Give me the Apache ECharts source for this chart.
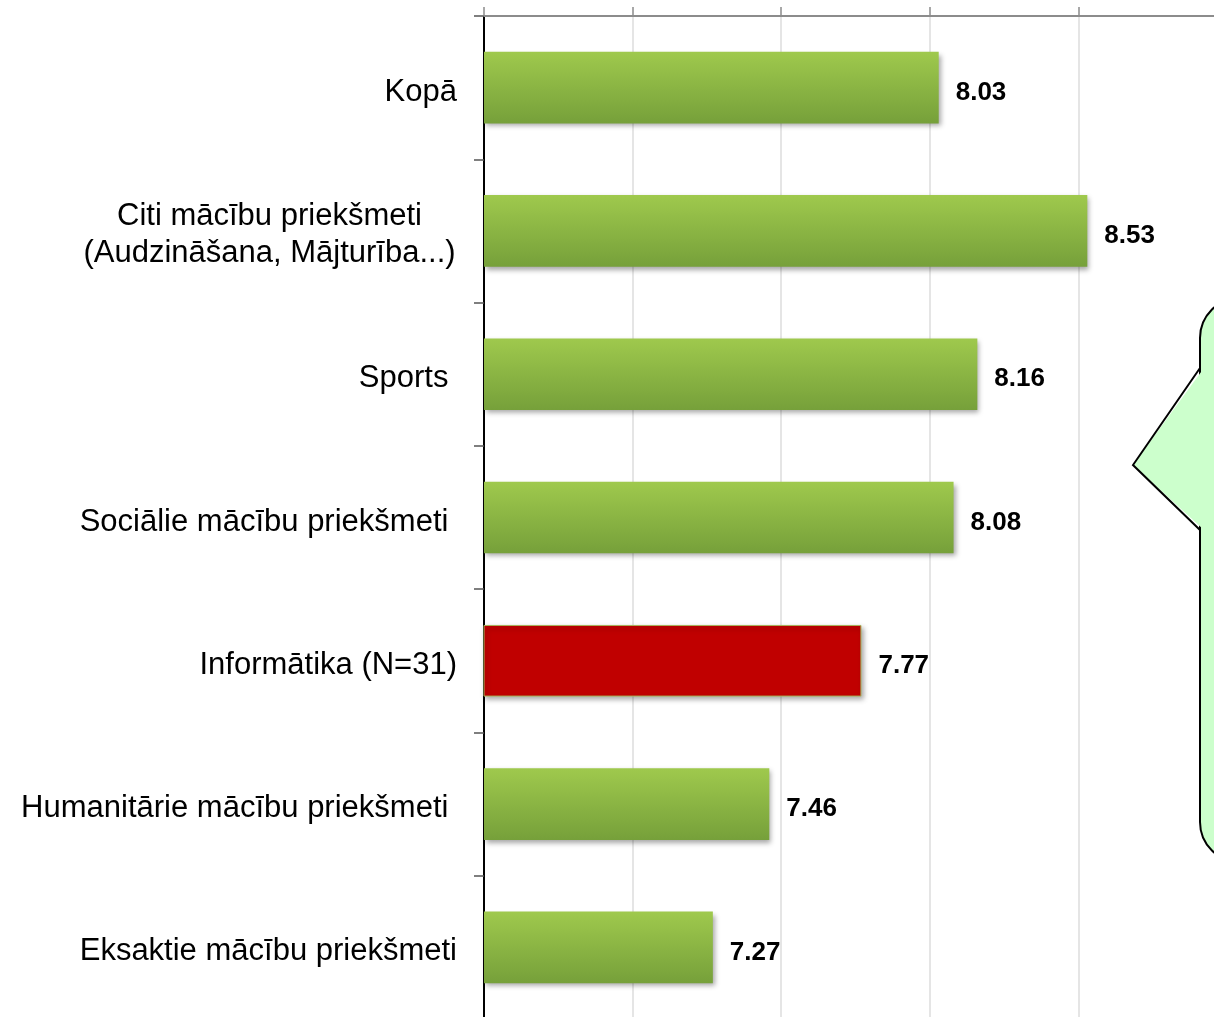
<!DOCTYPE html>
<html>
<head>
<meta charset="utf-8">
<script src="https://cdn.jsdelivr.net/npm/echarts@6/dist/echarts.min.js"></script>
<style>
  html, body { margin: 0; padding: 0; background: #fff; }
  #main { width: 1214px; height: 1017px; }
</style>
</head>
<body>
<div id="main"></div>
<script>
// categories top to bottom
var categories = [
    'Kopā',
    '{c|Citi mācību priekšmeti}\n{c|(Audzināšana, Mājturība...)}',
    'Sports ',
    'Sociālie mācību priekšmeti ',
    'Informātika (N=31)',
    'Humanitārie mācību priekšmeti ',
    'Eksaktie mācību priekšmeti'
];
var values = [8.03, 8.53, 8.16, 8.08, 7.77, 7.46, 7.27];
var highlightIndex = 4;

var greenBar = {
    type: 'linear', x: 0, y: 0, x2: 0, y2: 1,
    colorStops: [
        { offset: 0, color: '#9fc94d' },
        { offset: 1, color: '#76a03a' }
    ]
};

var barData = [];
for (var i = 0; i < values.length; i++) {
    barData.push({
        value: values[i],
        itemStyle: i === highlightIndex ? {
            color: '#c00000',
            borderColor: '#a8b45a',
            borderWidth: 1
        } : { color: greenBar }
    });
}

var chart = echarts.init(document.getElementById('main'));
chart.setOption({
    animation: false,
    backgroundColor: '#ffffff',
    grid: {
        left: 484,
        top: 16,
        right: -13,
        bottom: -2,
        outerBoundsMode: 'none',
        containLabel: false
    },
    xAxis: {
        type: 'value',
        position: 'top',
        min: 6.5,
        max: 9,
        interval: 0.5,
        axisLine: { show: true, lineStyle: { color: '#8c8c8c', width: 2 } },
        axisTick: { show: true, length: 9, lineStyle: { color: '#8c8c8c', width: 1.5 } },
        axisLabel: { show: false },
        splitLine: { show: true, lineStyle: { color: '#dcdcdc', width: 1.5 } }
    },
    yAxis: {
        type: 'category',
        inverse: true,
        data: categories,
        axisLine: { show: true, lineStyle: { color: '#000000', width: 2 } },
        axisTick: { show: true, length: 10, lineStyle: { color: '#555555', width: 1.5 } },
        axisLabel: {
            margin: 27,
            padding: [9, 0, 0, 0],
            color: '#000000',
            fontFamily: 'Liberation Sans, Arial, sans-serif',
            fontSize: 31,
            lineHeight: 37,
            align: 'right',
            rich: {
                c: {
                    width: 375,
                    align: 'center',
                    fontFamily: 'Liberation Sans, Arial, sans-serif',
                    fontSize: 31,
                    lineHeight: 37,
                    color: '#000000'
                }
            }
        }
    },
    series: [{
        type: 'bar',
        data: barData,
        barCategoryGap: '50%',
        itemStyle: {
            shadowColor: 'rgba(0,0,0,0.35)',
            shadowBlur: 5,
            shadowOffsetX: 2,
            shadowOffsetY: 3
        },
        label: {
            show: true,
            position: 'right',
            distance: 17,
            offset: [0, 5],
            color: '#000000',
            fontFamily: 'Liberation Sans, Arial, sans-serif',
            fontWeight: 'bold',
            fontSize: 26,
            formatter: function (p) { return p.value.toFixed(2); }
        }
    }],
    // speech-bubble callout cut off at the right edge
    graphic: [
        {
            type: 'rect',
            shape: { x: 1200, y: 298, width: 80, height: 564, r: 40 },
            style: { fill: '#ccffcc', stroke: '#000000', lineWidth: 2 }
        },
        {
            type: 'polygon',
            shape: { points: [[1204, 368], [1133, 465], [1204, 530]] },
            style: { fill: '#ccffcc' }
        },
        {
            type: 'polyline',
            shape: { points: [[1200, 368], [1133, 465], [1200, 530]] },
            style: { stroke: '#000000', lineWidth: 2, fill: null }
        }
    ]
});
</script>
</body>
</html>
